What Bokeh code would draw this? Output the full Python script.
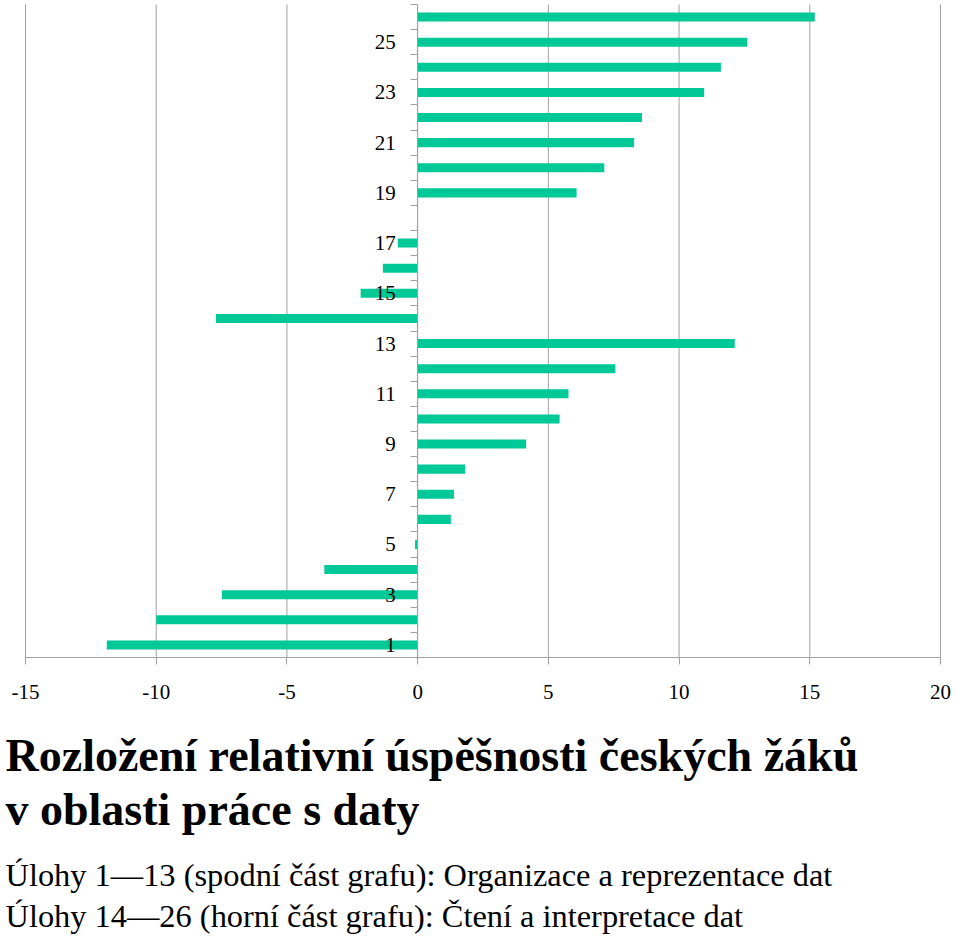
from bokeh.plotting import figure
from bokeh.models import Range1d, FixedTicker, Label, ColumnDataSource
from bokeh.embed import file_html
from bokeh.resources import INLINE

# ---- data ----
tasks = list(range(1, 27))
success = [-11.89, -10.0, -7.49, -3.57, -0.10, 1.27, 1.39, 1.82, 4.15, 5.43, 5.77, 7.56, 12.13,
           -7.72, -2.18, -1.33, -0.76, 0.0, 6.08, 7.14, 8.28, 8.58, 10.96, 11.60, 12.61, 15.19]
x_ticks = [-15, -10, -5, 0, 5, 10, 15, 20]
x_tick_labels = ["-15", "-10", "-5", "0", "5", "10", "15", "20"]
y_ticks = [1, 3, 5, 7, 9, 11, 13, 15, 17, 19, 21, 23, 25]
y_tick_labels = ["1", "3", "5", "7", "9", "11", "13", "15", "17", "19", "21", "23", "25"]
title_lines = ["Rozložení relativní úspěšnosti českých žáků", "v oblasti práce s daty"]
subtitle_lines = ["Úlohy 1\u201413 (spodní část grafu): Organizace a reprezentace dat",
                  "Úlohy 14\u201426 (horní část grafu): Čtení a interpretace dat"]

BAR = "#00C896"
GRID = "#a0a0a0"
FONT = "Liberation Serif"

# ---- layout (canvas pixels) ----
W, H = 952, 934
X_LEFT_PX, X_RIGHT_PX = 25, 940      # where -15 and 20 sit
Y_TOP_PX, Y_AXIS_PX = 4, 657         # top of category band, x-axis line
XMIN, XMAX = -15, 20
YMIN, YMAX = 0.5, 26.5
PX_X = (X_RIGHT_PX - X_LEFT_PX) / (XMAX - XMIN)
PX_Y = (Y_AXIS_PX - Y_TOP_PX) / (YMAX - YMIN)


def dx(px):
    return XMIN + (px - X_LEFT_PX) / PX_X


def dy(py):
    return YMIN - (py - Y_AXIS_PX) / PX_Y


source = ColumnDataSource(data=dict(task=tasks, value=success))

p = figure(width=W, height=H, output_backend="svg", toolbar_location=None,
           x_range=Range1d(dx(0), dx(W)), y_range=Range1d(dy(H), dy(0)),
           min_border_left=0, min_border_right=0, min_border_top=0, min_border_bottom=0)
p.outline_line_color = None
p.background_fill_color = "white"
p.border_fill_color = "white"
p.xgrid.visible = False
p.ygrid.visible = False

# vertical grid lines at the x ticks, only over the category band
p.segment(x0=x_ticks, y0=YMIN, x1=x_ticks, y1=YMAX, line_color=GRID, line_width=1)

p.hbar(y="task", right="value", left=0, height=0.36, source=source,
       fill_color=BAR, line_color=None)

# x axis along the bottom of the band
xa = p.xaxis[0]
xa.fixed_location = YMIN
xa.bounds = (XMIN, XMAX)
xa.ticker = FixedTicker(ticks=x_ticks)
xa.major_label_overrides = dict(zip(x_ticks, x_tick_labels))
xa.axis_line_color = GRID
xa.major_tick_line_color = GRID
xa.major_tick_in = 0
xa.major_tick_out = 7
xa.minor_tick_line_color = None
xa.major_label_text_font = FONT
xa.major_label_text_font_size = "21px"
xa.major_label_text_color = "black"
xa.major_label_standoff = 20

# y axis at x = 0
ya = p.yaxis[0]
ya.fixed_location = 0
ya.bounds = (YMIN, YMAX)
ya.ticker = FixedTicker(ticks=y_ticks, minor_ticks=[t + 0.5 for t in range(0, 27)])
ya.major_label_overrides = dict(zip(y_ticks, y_tick_labels))
ya.axis_line_color = GRID
ya.major_tick_line_color = None
ya.major_tick_in = 0
ya.major_tick_out = 0
ya.minor_tick_line_color = GRID
ya.minor_tick_in = 0
ya.minor_tick_out = 7
ya.major_label_text_font = FONT
ya.major_label_text_font_size = "21px"
ya.major_label_text_color = "black"
ya.major_label_standoff = 15

# captions below the chart (vertical centres in canvas pixels)
specs = [(title_lines[0], "46px", "bold", 755),
         (title_lines[1], "46px", "bold", 809),
         (subtitle_lines[0], "32.4px", "normal", 874),
         (subtitle_lines[1], "32.4px", "normal", 915)]
for txt, size, style, mid in specs:
    p.add_layout(Label(x=dx(5), y=dy(mid), text=txt,
                       text_font=FONT, text_font_size=size, text_font_style=style,
                       text_color="black", text_baseline="middle", text_align="left"))

open("out.html", "w").write(file_html(p, INLINE))
